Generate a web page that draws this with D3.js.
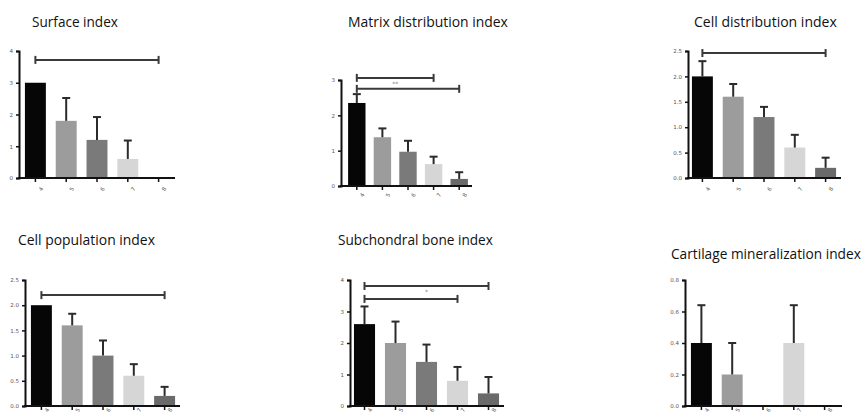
<!DOCTYPE html>
<html>
<head>
<meta charset="utf-8">
<script src="https://cdn.jsdelivr.net/npm/d3@7"></script>
<style>
  body { margin: 0; background: #fff; }
</style>
</head>
<body>
<svg id="main-canvas" width="866" height="418"></svg>
<script>
// groups on the x axis (same in every panel)
const groups = ["4", "5", "6", "7", "8"]

// Surface index
const surfaceMean  = [3.0, 1.8, 1.2, 0.6, 0]
const surfaceErr   = [0, 0.72, 0.72, 0.58, 0]
const surfaceTicks = [0, 1, 2, 3, 4]
const surfaceSig   = [{ from: 0, to: 4, at: 3.72, mark: "" }]

// Matrix distribution index
const matrixMean  = [2.35, 1.38, 0.97, 0.62, 0.2]
const matrixErr   = [0.25, 0.25, 0.31, 0.21, 0.19]
const matrixTicks = [0, 1, 2, 3]
const matrixSig   = [{ from: 0, to: 3, at: 3.06, mark: "**" },
                     { from: 0, to: 4, at: 2.75, mark: "" }]

// Cell distribution index
const cellDistMean  = [2.0, 1.6, 1.2, 0.6, 0.2]
const cellDistErr   = [0.3, 0.25, 0.2, 0.25, 0.2]
const cellDistTicks = [0, 0.5, 1.0, 1.5, 2.0, 2.5]
const cellDistSig   = [{ from: 0, to: 4, at: 2.46, mark: "" }]

// Cell population index
const cellPopMean  = [2.0, 1.6, 1.0, 0.6, 0.2]
const cellPopErr   = [0, 0.23, 0.3, 0.23, 0.18]
const cellPopTicks = [0, 0.5, 1.0, 1.5, 2.0, 2.5]
const cellPopSig   = [{ from: 0, to: 4, at: 2.2, mark: "" }]

// Subchondral bone index
const boneMean  = [2.6, 2.0, 1.4, 0.8, 0.4]
const boneErr   = [0.56, 0.68, 0.55, 0.44, 0.52]
const boneTicks = [0, 1, 2, 3, 4]
const boneSig   = [{ from: 0, to: 4, at: 3.81, mark: "*" },
                   { from: 0, to: 3, at: 3.4, mark: "" }]

// Cartilage mineralization index
const mineralMean  = [0.4, 0.2, 0, 0.4, 0]
const mineralErr   = [0.24, 0.2, 0, 0.24, 0]
const mineralTicks = [0, 0.2, 0.4, 0.6, 0.8]
const mineralSig   = []

const barColors = ["#060606", "#9c9c9c", "#7a7a7a", "#d6d6d6", "#6a6a6a"]

// where each panel sits on the page
const panels = [
    { title: "Surface index", mean: surfaceMean, err: surfaceErr, ticks: surfaceTicks, sig: surfaceSig, fmt: "d",
      axisX: 19, band: [20, 174], xEnd: 175, y: [178, 51], tx: 32, ty: 27, tw: 86, lblDy: 7 },
    { title: "Matrix distribution index", mean: matrixMean, err: matrixErr, ticks: matrixTicks, sig: matrixSig, fmt: "d",
      axisX: 341, band: [344, 472], xEnd: 472, y: [186, 80], tx: 348, ty: 27, tw: 160, lblDy: 5 },
    { title: "Cell distribution index", mean: cellDistMean, err: cellDistErr, ticks: cellDistTicks, sig: cellDistSig, fmt: ".1f",
      axisX: 688, band: [687, 841], xEnd: 841, y: [178, 51], tx: 694, ty: 27, tw: 143, lblDy: 7 },
    { title: "Cell population index", mean: cellPopMean, err: cellPopErr, ticks: cellPopTicks, sig: cellPopSig, fmt: ".1f",
      axisX: 25, band: [26, 180], xEnd: 180, y: [406, 280], tx: 18, ty: 245, tw: 137, lblDy: 0 },
    { title: "Subchondral bone index", mean: boneMean, err: boneErr, ticks: boneTicks, sig: boneSig, fmt: "d",
      axisX: 350, band: [349, 504], xEnd: 504, y: [406, 280], tx: 338, ty: 245, tw: 155, lblDy: 0 },
    { title: "Cartilage mineralization index", mean: mineralMean, err: mineralErr, ticks: mineralTicks, sig: mineralSig, fmt: ".1f",
      axisX: 685, band: [686, 840], xEnd: 842, y: [406, 280], tx: 671, ty: 259, tw: 190, lblDy: 0 }
]

const svg = d3.select("#main-canvas")

panels.forEach(function (p) {
    const g = svg.append("g")

    const x = d3.scaleBand()
                .domain(groups)
                .range(p.band)
                .paddingInner(0.32)
                .paddingOuter(0.16)

    const yMax = p.ticks[p.ticks.length - 1]
    const y = d3.scaleLinear()
                .domain([0, yMax])
                .range(p.y)

    // title, font size fitted to the width seen in the picture
    const title = g.append("text")
                   .attr("x", p.tx)
                   .attr("y", p.ty)
                   .attr("font-family", "Open Sans, Noto Sans, sans-serif")
                   .attr("font-size", 15)
                   .attr("fill", "#111")
                   .text(p.title)
    const w = title.node().getComputedTextLength()
    title.attr("font-size", Math.min(15.5, 15 * p.tw / w))

    // bars
    g.selectAll("rect.bar")
     .data(p.mean)
     .enter()
     .append("rect")
     .attr("class", "bar")
     .attr("x", (d, i) => x(groups[i]))
     .attr("y", d => y(d))
     .attr("width", x.bandwidth())
     .attr("height", d => y(0) - y(d))
     .attr("fill", (d, i) => barColors[i])

    // upper error whiskers
    const errs = p.mean.map((m, i) => ({ m: m, e: p.err[i], i: i })).filter(d => d.e > 0)
    const eg = g.selectAll("g.err")
                .data(errs)
                .enter()
                .append("g")
                .attr("class", "err")
                .attr("stroke", "#2b2b2b")
                .attr("stroke-width", 2)
    eg.append("line")
      .attr("x1", d => x(groups[d.i]) + x.bandwidth() / 2)
      .attr("x2", d => x(groups[d.i]) + x.bandwidth() / 2)
      .attr("y1", d => y(d.m))
      .attr("y2", d => y(d.m + d.e))
    eg.append("line")
      .attr("x1", d => x(groups[d.i]) + x.bandwidth() / 2 - 4)
      .attr("x2", d => x(groups[d.i]) + x.bandwidth() / 2 + 4)
      .attr("y1", d => y(d.m + d.e))
      .attr("y2", d => y(d.m + d.e))

    // significance brackets
    const sg = g.selectAll("g.sig")
                .data(p.sig)
                .enter()
                .append("g")
                .attr("class", "sig")
    sg.append("line")
      .attr("x1", d => x(groups[d.from]) + x.bandwidth() / 2)
      .attr("x2", d => x(groups[d.to]) + x.bandwidth() / 2)
      .attr("y1", d => y(d.at))
      .attr("y2", d => y(d.at))
      .attr("stroke", "#3a3a3a")
      .attr("stroke-width", 2)
    sg.each(function (d) {
        const s = d3.select(this)
        ;[d.from, d.to].forEach(function (k) {
            const cx = x(groups[k]) + x.bandwidth() / 2
            s.append("line")
             .attr("x1", cx).attr("x2", cx)
             .attr("y1", y(d.at) - 4).attr("y2", y(d.at) + 4)
             .attr("stroke", "#3a3a3a")
             .attr("stroke-width", 2)
        })
    })
    sg.append("text")
      .attr("x", d => (x(groups[d.from]) + x(groups[d.to]) + x.bandwidth()) / 2)
      .attr("y", d => y(d.at) + 8)
      .attr("text-anchor", "middle")
      .attr("font-family", "DejaVu Sans, sans-serif")
      .attr("font-size", 6)
      .attr("fill", "#777")
      .text(d => d.mark)

    // y axis
    const yAxis = d3.axisLeft(y)
                    .tickValues(p.ticks)
                    .tickFormat(d3.format(p.fmt))
                    .tickSize(3)
                    .tickPadding(3)
    const ya = g.append("g")
                .attr("transform", "translate(" + p.axisX + ",0)")
                .call(yAxis)
    ya.select(".domain").attr("stroke", "#111").attr("stroke-width", 2)
    ya.selectAll(".tick line").attr("stroke", "#111").attr("stroke-width", 1.5)
    ya.selectAll(".tick text")
      .attr("font-family", "DejaVu Sans, sans-serif")
      .attr("font-size", 5.5)
      .attr("fill", "#555")

    // x axis
    g.append("line")
     .attr("x1", p.axisX - 1)
     .attr("x2", p.xEnd)
     .attr("y1", y(0))
     .attr("y2", y(0))
     .attr("stroke", "#111")
     .attr("stroke-width", 2)
    const xa = g.append("g")
                .attr("transform", "translate(0," + y(0) + ")")
                .call(d3.axisBottom(x).tickSize(4).tickPadding(1))
    xa.select(".domain").remove()
    xa.selectAll(".tick line").attr("stroke", "#111").attr("stroke-width", 1.5)
    xa.selectAll(".tick text")
      .attr("font-family", "DejaVu Sans, sans-serif")
      .attr("font-size", 5.5)
      .attr("fill", "#555")
      .attr("text-anchor", "end")
      .attr("dy", "0.35em")
      .attr("transform", "translate(2," + p.lblDy + ") rotate(-60)")
})
</script>
</body>
</html>
